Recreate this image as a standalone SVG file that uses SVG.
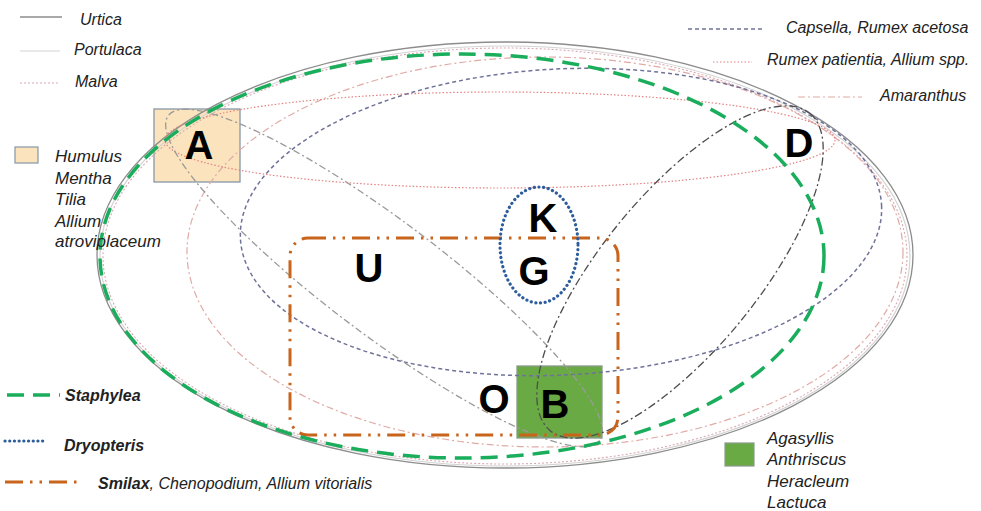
<svg xmlns="http://www.w3.org/2000/svg" width="981" height="511" viewBox="0 0 981 511">
<style>
  .lg { font-family: "Liberation Sans", Arial, sans-serif; font-style: italic; font-size: 16px; fill: #222; }
  .lg17 { font-size: 17px; }
  .lgb { font-weight: bold; }
  .big { font-family: "Liberation Sans", Arial, sans-serif; font-weight: bold; font-size: 40px; fill: #000; text-anchor: middle; }
  .c { fill: none; }
  .urtica { stroke: #8c8c8c; stroke-width: 1.3; }
  .portulaca { stroke: #d3d3d3; stroke-width: 1.2; }
  .malva { stroke: #d9a9b1; stroke-width: 1.1; stroke-dasharray: 2 2; }
  .capsella { stroke: #6f7299; stroke-width: 1.5; stroke-dasharray: 4 3; }
  .rumex { stroke: #e58080; stroke-width: 1.2; stroke-dasharray: 1.5 2; }
  .amar { stroke: #e0aaa5; stroke-width: 1.2; stroke-dasharray: 7 3 2 3; }
  .greylens { stroke: #9a9a9a; stroke-width: 1.3; stroke-dasharray: 7 3 2 3; }
  .darklens { stroke: #4d4d4d; stroke-width: 1.3; stroke-dasharray: 8 3 2 3; }
  .staph { stroke: #1aae5c; stroke-width: 3.5; stroke-dasharray: 17 9; }
  .dryo { stroke: #2e5d9e; stroke-width: 3.2; stroke-dasharray: 0.1 4.6; stroke-linecap: round; }
  .smilax { stroke: #c9641c; stroke-width: 3; stroke-dasharray: 18 7 2.5 7 2.5 7; }
</style>

<g id="box-A">
  <rect x="154" y="109" width="86" height="73" fill="#fbe4bd" stroke="#8797a6" stroke-width="1.3"/>
</g>
<g id="box-B">
  <rect x="517" y="366" width="85" height="72" fill="#6aaa45" stroke="#8a9a8a" stroke-width="1.3"/>
</g>

<g id="connectors">
  <ellipse class="c portulaca" cx="505" cy="256" rx="405" ry="210"/>
  <ellipse class="c malva" cx="505" cy="256" rx="402" ry="208"/>
  <ellipse class="c urtica" cx="505" cy="255" rx="408" ry="213"/>
  <ellipse class="c amar" cx="545" cy="252" rx="358" ry="195"/>
  <ellipse class="c rumex" cx="500" cy="140" rx="335" ry="48"/>
  <ellipse class="c capsella" cx="561" cy="222" rx="321" ry="153" transform="rotate(-3 561 222)"/>
  <ellipse class="c greylens" cx="384" cy="278" rx="270" ry="57" transform="rotate(37 384 278)"/>
  <ellipse class="c darklens" cx="680" cy="272" rx="205" ry="78" transform="rotate(-50.7 680 272)"/>
  <rect class="c smilax" x="290" y="238" width="328" height="197" rx="18"/>
  <ellipse class="c staph" cx="462" cy="256" rx="362" ry="202"/>
  <ellipse class="c dryo" cx="539" cy="245" rx="39" ry="58"/>
</g>

<g id="label-A"><text class="big" x="199" y="159" font-size="37">A</text></g>
<g id="label-D"><text class="big" x="799" y="157">D</text></g>
<g id="label-K"><text class="big" x="543" y="232">K</text></g>
<g id="label-G"><text class="big" x="534" y="285">G</text></g>
<g id="label-U"><text class="big" x="369" y="282">U</text></g>
<g id="label-O"><text class="big" x="494" y="413">O</text></g>
<g id="label-B"><text class="big" x="555" y="418">B</text></g>

<g id="legend-topleft">
  <line class="urtica" x1="20" y1="17" x2="62" y2="17"/>
  <text class="lg" x="80" y="25">Urtica</text>
  <line class="portulaca" x1="20" y1="51" x2="60" y2="51"/>
  <text class="lg" x="74" y="55">Portulaca</text>
  <line class="malva" x1="20" y1="83" x2="60" y2="83"/>
  <text class="lg" x="75" y="87">Malva</text>
</g>

<g id="legend-topright">
  <line class="capsella" x1="688" y1="29" x2="762" y2="29"/>
  <text class="lg" x="786" y="33">Capsella, Rumex acetosa</text>
  <line class="rumex" x1="713" y1="62" x2="752" y2="62"/>
  <text class="lg" x="767" y="65">Rumex patientia, Allium spp.</text>
  <line class="amar" x1="798" y1="97" x2="862" y2="97"/>
  <text class="lg" x="880" y="101">Amaranthus</text>
</g>

<g id="legend-A">
  <rect x="15" y="147" width="23" height="16" fill="#fbe4bd" stroke="#8797a6" stroke-width="1.2"/>
  <text class="lg lg17" x="55" y="162">Humulus</text>
  <text class="lg lg17" x="55" y="184">Mentha</text>
  <text class="lg lg17" x="55" y="205">Tilia</text>
  <text class="lg lg17" x="55" y="227">Allium</text>
  <text class="lg lg17" x="55" y="247">atroviplaceum</text>
</g>

<g id="legend-bottomleft">
  <line class="staph" x1="7" y1="395" x2="60" y2="395" stroke-dasharray="12 6"/>
  <text class="lg lgb" x="65" y="401">Staphylea</text>
  <line class="dryo" x1="5" y1="441" x2="45" y2="441" stroke-width="2.5" stroke-dasharray="0.1 3.6"/>
  <text class="lg lgb" x="64" y="451">Dryopteris</text>
  <line class="smilax" x1="5" y1="482" x2="80" y2="482" stroke-dasharray="22 9 2.5 7 2.5 9"/>
  <text class="lg" x="98" y="489"><tspan class="lgb">Smilax</tspan>, Chenopodium, Allium vitorialis</text>
</g>

<g id="legend-B">
  <rect x="725" y="443" width="29" height="23" fill="#6aaa45" stroke="#8a9a8a" stroke-width="1.2"/>
  <text class="lg lg17" x="767" y="444">Agasyllis</text>
  <text class="lg lg17" x="767" y="465">Anthriscus</text>
  <text class="lg lg17" x="767" y="487">Heracleum</text>
  <text class="lg lg17" x="767" y="508">Lactuca</text>
</g>
</svg>
